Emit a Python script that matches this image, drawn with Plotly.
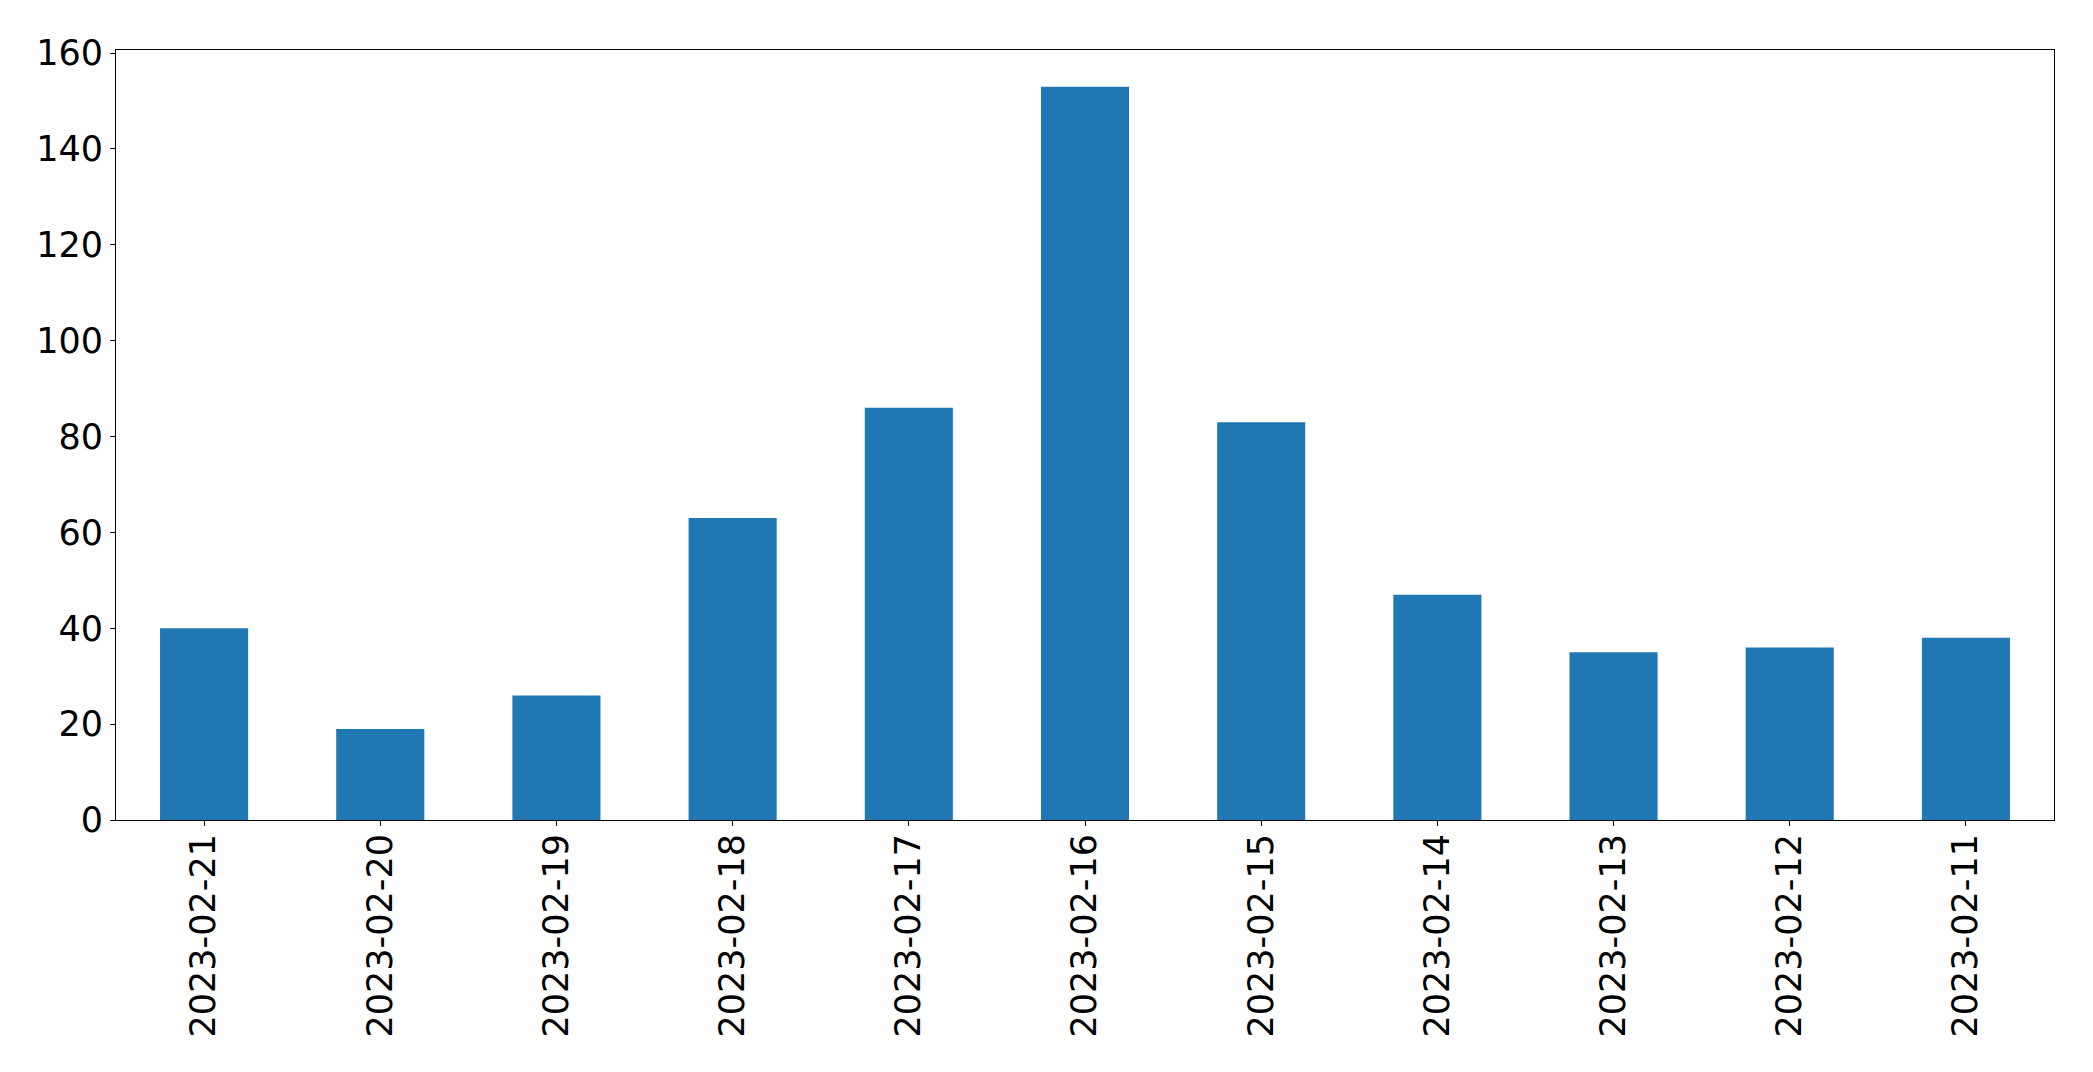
import plotly.graph_objects as go

dates = ["2023-02-21", "2023-02-20", "2023-02-19", "2023-02-18", "2023-02-17",
         "2023-02-16", "2023-02-15", "2023-02-14", "2023-02-13", "2023-02-12", "2023-02-11"]
counts = [40, 19, 26, 63, 86, 153, 83, 47, 35, 36, 38]
y_ticks = [0, 20, 40, 60, 80, 100, 120, 140, 160]

fig = go.Figure(go.Bar(
    x=list(range(len(dates))),
    y=counts,
    width=0.5,
    marker=dict(color="#1f77b4", line=dict(width=0)),
))

font = dict(family="DejaVu Sans", size=35, color="black")

fig.update_layout(
    width=2093, height=1072,
    margin=dict(l=116, r=39, t=50, b=252, pad=0),
    paper_bgcolor="white", plot_bgcolor="white",
    showlegend=False,
    font=font,
)
fig.update_xaxes(
    range=[-0.5, len(dates) - 0.5],
    tickmode="array", tickvals=list(range(len(dates))), ticktext=dates,
    tickangle=-90,
    showline=True, linecolor="black", linewidth=1.1, mirror=True,
    ticks="outside", ticklen=5, tickwidth=1.1, tickcolor="black",
    showgrid=False, zeroline=False, tickfont=font,
    ticklabelstandoff=-6,
)
fig.update_yaxes(
    range=[0, max(counts) * 1.05],
    tickmode="array", tickvals=y_ticks,
    showline=True, linecolor="black", linewidth=1.1, mirror=True,
    ticks="outside", ticklen=5, tickwidth=1.1, tickcolor="black",
    showgrid=False, zeroline=False, tickfont=font,
)

fig.write_html(
    "out.html",
    config={"displayModeBar": False},
    post_script="document.body.style.margin='0';document.body.style.overflow='hidden';",
)
